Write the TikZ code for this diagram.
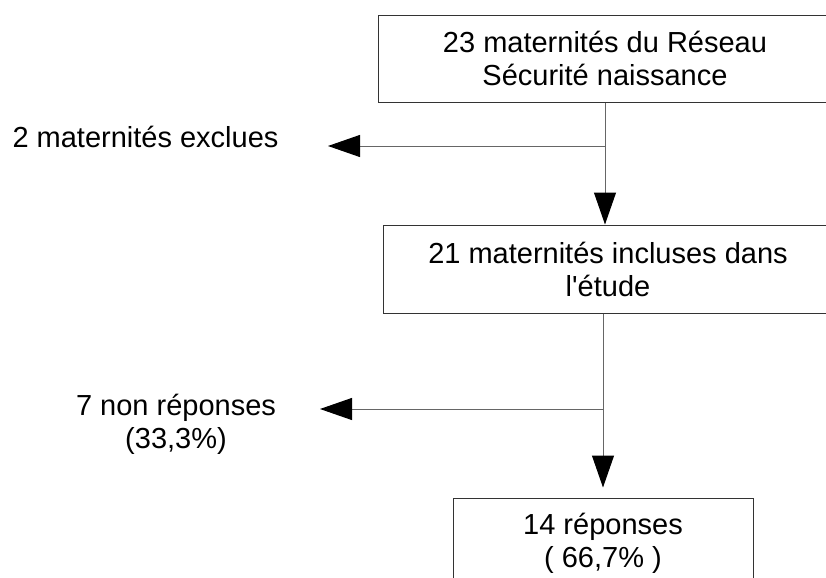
\documentclass[tikz,border=0pt]{standalone}
\usepackage{fontspec}
\setmainfont{Liberation Sans}
\usetikzlibrary{arrows.meta}
\usetikzlibrary{positioning}

\begin{document}
\begin{tikzpicture}[x=0.5pt,y=-0.5pt,
    box/.style={draw=black!80, line width=0.5pt, rectangle, align=center,
      font=\fontsize{14.5pt}{16.5pt}\selectfont},
    lbl/.style={align=center, font=\fontsize{14.5pt}{16.5pt}\selectfont},
    arr/.style={draw=black!60, line width=0.5pt,
      -{Triangle[length=16pt,width=11pt,black]}}]
      \clip (0,0) rectangle (826,578);
      \node[box, minimum width=227pt, minimum height=43.5pt] (reseau) at (605,58.5)
        {23 maternités du Réseau\\Sécurité naissance};
      \node[box, minimum width=225pt, minimum height=44pt] (incluses) at (608,269)
        {21 maternités incluses dans\\l\textquotesingle étude};
      \node[box, minimum width=150pt, minimum height=45pt] (reponses) at (603,543)
        {14 réponses\\( 66,7\% )};
      \node[lbl, anchor=base] (exclues) at (145.5,148) {2 maternités exclues};
      \node[lbl] (nonrep) at (176,424) {7 non réponses\\(33,3\%)};
      \coordinate (j1) at (605,146);
      \coordinate (t1) at (328,146);
      \coordinate (j2) at (603,409);
      \coordinate (t2) at (320,409);
      \draw[arr] (reseau.south) -- (reseau.south |- incluses.north);
      \draw[arr] (j1) -- (t1);
      \draw[arr, shorten >=5pt] (incluses.south -| reponses.north) -- (reponses.north);
      \draw[arr] (j2) -- (t2);
    \end{tikzpicture}
\end{document}
